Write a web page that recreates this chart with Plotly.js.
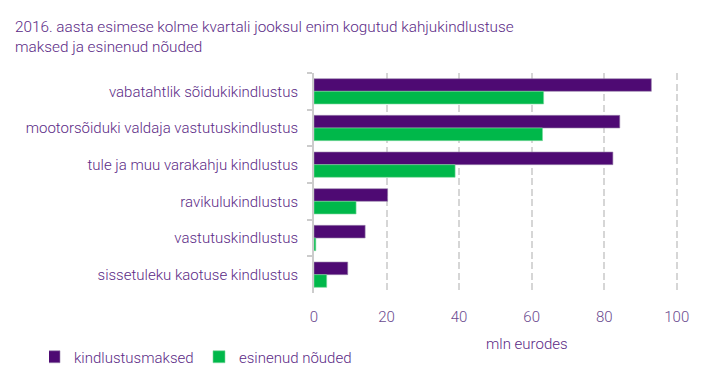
<!DOCTYPE html>
<html><head><meta charset="utf-8">
<script src="https://cdn.plot.ly/plotly-3.0.1.min.js"></script>
<style>html,body{margin:0;padding:0;background:#fff;}#chart{width:711px;height:384px;}</style>
</head><body><div id="chart"></div>
<script>
const categories = [
  "vabatahtlik sõidukikindlustus",
  "mootorsõiduki valdaja vastutuskindlustus",
  "tule ja muu varakahju kindlustus",
  "ravikulukindlustus",
  "vastutuskindlustus",
  "sissetuleku kaotuse kindlustus"
];
const premiums = [93.0, 84.3, 82.4, 20.3, 14.1, 9.3];
const claims = [63.3, 63.0, 38.9, 11.6, 0.5, 3.5];
const seriesNames = ["kindlustusmaksed", "esinenud nõuded"];
const xTicks = [0, 20, 40, 60, 80, 100];
const titleText = "2016. aasta esimese kolme kvartali jooksul enim kogutud kahjukindlustuse<br>maksed ja esinenud nõuded";
const xTitle = "mln eurodes";

const txt = "#5b2a86";
const fontFam = "Roboto, 'Open Sans', sans-serif";
const L = 314, PW = 370, T = 73, PH = 221;

const traces = [
  {type:"bar", orientation:"h", name:seriesNames[0], y:categories, x:premiums,
   marker:{color:"#4e0a73", line:{color:"#9a86ad", width:0.6}}},
  {type:"bar", orientation:"h", name:seriesNames[1], y:categories, x:claims,
   marker:{color:"#00b84a", line:{color:"#7fd89f", width:0.6}}}
];

const layout = {
  width:711, height:384,
  margin:{l:L, r:711-L-PW, t:T, b:384-T-PH},
  paper_bgcolor:"#fff", plot_bgcolor:"#fff",
  font:{family:fontFam, color:txt, size:15, weight:300},
  barmode:"group", bargap:0.31, bargroupgap:0,
  xaxis:{range:[0,102], tickvals:xTicks, ticktext:xTicks.map(String),
         showgrid:true, gridcolor:"#d6d6d6", gridwidth:2, griddash:"7px,3.5px",
         zeroline:false, showline:false, ticks:"outside", ticklen:10, tickcolor:"rgba(0,0,0,0)",
         tickfont:{size:15, color:"#6b4b8f"}},
  yaxis:{autorange:"reversed", showline:true, linecolor:"#cccccc", linewidth:2,
         ticks:"outside", tickson:"boundaries", ticklen:5, tickcolor:"#cccccc", tickwidth:2,
         showgrid:false, ticklabelstandoff:11,
         tickfont:{size:15, color:txt}},
  legend:{orientation:"h", xref:"paper", yref:"paper", x:(49-L)/PW, y:-(357-(T+PH))/PH,
          xanchor:"left", yanchor:"middle", font:{size:15, color:txt}, entrywidth:135, entrywidthmode:"pixels",
          itemwidth:30, indentation:-15},
  annotations:[
    {text:titleText, xref:"paper", yref:"paper", x:(13-L)/PW, y:1+(T-16)/PH,
     xanchor:"left", yanchor:"top", align:"left", showarrow:false,
     font:{size:15.3, color:txt}},
    {text:xTitle, xref:"paper", yref:"paper", x:(527-L)/PW, y:-(345-(T+PH))/PH,
     xanchor:"center", yanchor:"middle", showarrow:false, font:{size:15, color:txt}}]
};
Plotly.newPlot("chart", traces, layout, {displayModeBar:false, staticPlot:true});
</script></body></html>
